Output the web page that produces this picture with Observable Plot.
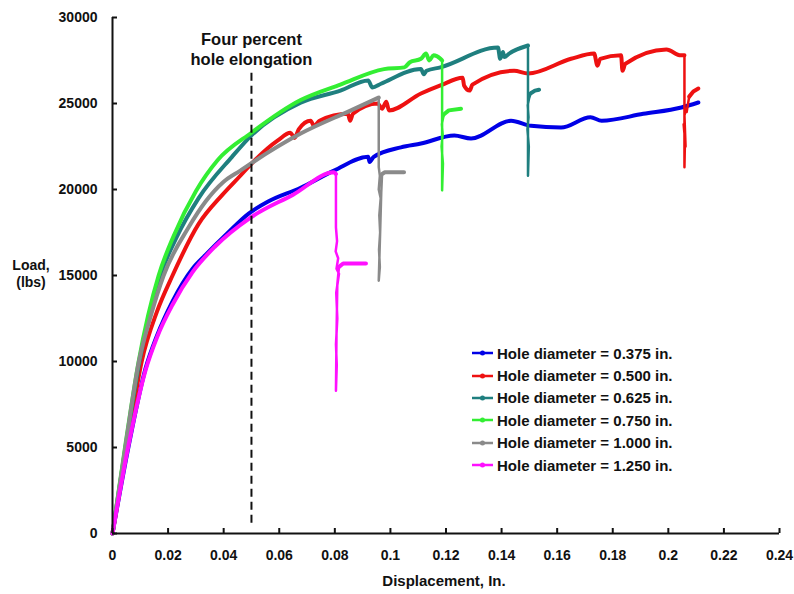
<!DOCTYPE html>
<html><head><meta charset="utf-8">
<script src="https://cdn.jsdelivr.net/npm/d3@7"></script>
<script src="https://cdn.jsdelivr.net/npm/@observablehq/plot@0.6"></script>
<style>
body{margin:0;background:#fff;}
#wrap{position:relative;width:794px;height:594px;font-family:"Liberation Sans",Arial,sans-serif;font-weight:bold;color:#111;}
.lab{position:absolute;white-space:nowrap;}
.row{display:flex;align-items:center;height:22.4px;font-size:15px;}
.row svg{margin-right:3px;}
</style></head><body><div id="wrap"></div>
<script>
// ---- tick values ----
const xTicks = [0, 0.02, 0.04, 0.06, 0.08, 0.1, 0.12, 0.14, 0.16, 0.18, 0.2, 0.22, 0.24];
const yTicks = [0, 5000, 10000, 15000, 20000, 25000, 30000];

// ---- series names and colours ----
const names = ["Hole diameter = 0.375 in.", "Hole diameter = 0.500 in.", "Hole diameter = 0.625 in.",
               "Hole diameter = 0.750 in.", "Hole diameter = 1.000 in.", "Hole diameter = 1.250 in."];
const colors = ["#0000e6", "#ee1111", "#1f7f7f", "#33ee33", "#8a8a8a", "#ff10ff"];

// ---- 0.375 in. ----
const d375x = [0, 0.0057, 0.0119, 0.016, 0.0216, 0.0288, 0.0335, 0.041, 0.049, 0.056, 0.0677, 0.0797, 0.092, 0.0925, 0.094, 0.1038, 0.111, 0.123, 0.129, 0.1434, 0.1506, 0.1614, 0.172, 0.176, 0.191, 0.2047, 0.2108];
const d375y = [0, 5000, 9600, 11500, 13500, 15400, 16200, 17400, 18600, 19300, 20100, 21100, 21900, 21600, 21900, 22450, 22670, 23140, 22960, 24000, 23700, 23600, 24200, 24000, 24400, 24770, 25060];
const f375x = [];
const f375y = [];

// ---- 0.500 in. ----
const d500x = [0, 0.0052, 0.0105, 0.016, 0.0216, 0.031, 0.0396, 0.046, 0.0497, 0.0595, 0.064, 0.0655, 0.067, 0.0713, 0.0725, 0.0745, 0.0847, 0.0855, 0.0865, 0.0955, 0.097, 0.0985, 0.0995, 0.111, 0.118, 0.126, 0.1265, 0.1285, 0.1295, 0.1445, 0.1495, 0.165, 0.1733, 0.1745, 0.1755, 0.183, 0.1835, 0.1845, 0.1993, 0.2045, 0.2058];
const d500y = [0, 5000, 10000, 12900, 15000, 18000, 19700, 20800, 21450, 22850, 23300, 23000, 23500, 24000, 23700, 24000, 24400, 24000, 24400, 25000, 24700, 25100, 24600, 25580, 26050, 26500, 26050, 25750, 26100, 26900, 26740, 27600, 27900, 27200, 27600, 27800, 26900, 27300, 28140, 27800, 27800];
const f500x = [0.2058, 0.2060, 0.2055, 0.2062, 0.2058, 0.2064, 0.2066, 0.2075, 0.209, 0.2108];
const f500y = [21300, 23000, 23800, 22500, 24300, 24700, 24500, 25400, 25700, 25870];

// ---- 0.625 in. ----
const d625x = [0, 0.0047, 0.0097, 0.0172, 0.023, 0.031, 0.043, 0.05, 0.0677, 0.082, 0.092, 0.0935, 0.0966, 0.111, 0.112, 0.113, 0.118, 0.1387, 0.1395, 0.1405, 0.141, 0.1427, 0.1495];
const d625y = [0, 5000, 10000, 15000, 17200, 19500, 21900, 23150, 25050, 25750, 26340, 25930, 26150, 27000, 26700, 26900, 27100, 28250, 27600, 28000, 27700, 27900, 28370];
const f625x = [0.1495, 0.1498, 0.1493, 0.1497, 0.1494, 0.1499, 0.1505, 0.152, 0.1535];
const f625y = [20800, 22500, 23500, 24200, 24900, 25300, 25600, 25750, 25800];

// ---- 0.750 in. ----
const d750x = [0, 0.0045, 0.0094, 0.0166, 0.022, 0.03, 0.0378, 0.05, 0.0677, 0.082, 0.0977, 0.105, 0.107, 0.111, 0.1128, 0.114, 0.1155, 0.118, 0.1186];
const d750y = [0, 5000, 10000, 15000, 17300, 19900, 21700, 23300, 25200, 26100, 27000, 27100, 27400, 27600, 27900, 27500, 27800, 27600, 27500];
const f750x = [0.1186, 0.1189, 0.1184, 0.1188, 0.1185, 0.119, 0.1195, 0.121, 0.1254];
const f750y = [19950, 21500, 22500, 23200, 23800, 24200, 24400, 24600, 24700];

// ---- 1.000 in. ----
const d1000x = [0, 0.0046, 0.0095, 0.0135, 0.0184, 0.0274, 0.0335, 0.04, 0.046, 0.0497, 0.0677, 0.0858, 0.0958];
const d1000y = [0, 5000, 10000, 12500, 15000, 17800, 19300, 20450, 21100, 21500, 23250, 24600, 25350];
const f1000x = [0.0958, 0.0962, 0.0958, 0.0965, 0.096, 0.0963, 0.0959, 0.0962, 0.0958, 0.0963, 0.0967, 0.097, 0.098, 0.1049];
const f1000y = [21300, 20800, 20000, 19500, 18500, 17500, 16500, 15500, 14700, 17500, 19800, 20900, 21000, 21000];

// ---- 1.250 in. ----
const d1250x = [0, 0.0056, 0.0119, 0.016, 0.0216, 0.0288, 0.037, 0.0497, 0.065, 0.0797, 0.0804];
const d1250y = [0, 5000, 9500, 11400, 13300, 15200, 16700, 18370, 19700, 21000, 20900];
const f1250x = [0.0804, 0.0808, 0.0803, 0.0812, 0.0806, 0.0815, 0.0805, 0.0809, 0.0804, 0.0807, 0.0804, 0.0806, 0.0809, 0.0815, 0.083, 0.0912];
const f1250y = [17800, 17000, 16400, 16000, 15400, 15100, 14000, 12500, 11000, 9800, 8300, 11500, 14500, 15500, 15700, 15700];

// ---- annotation ----
const annotText = "Four percent\nhole elongation";
const annotX = 0.05;
const annotY = 28200;
const ruleLow = 600, ruleHigh = 26800;

const mainX = [d375x, d500x, d625x, d750x, d1000x, d1250x];
const mainY = [d375y, d500y, d625y, d750y, d1000y, d1250y];
const failX = [f375x, f500x, f625x, f750x, f1000x, f1250x];
const failY = [f375y, f500y, f625y, f750y, f1000y, f1250y];

const lineMarks = [];
names.forEach((n, i) => {
  const main = mainX[i].map((v, j) => ({x: v, y: mainY[i][j]}));
  lineMarks.push(Plot.line(main, {x: "x", y: "y", stroke: colors[i], strokeWidth: 4, curve: "monotone-x", strokeLinejoin: "round", strokeLinecap: "round"}));
  if (failX[i].length) {
    const last = main[main.length - 1];
    const fail = [last].concat(failX[i].map((v, j) => ({x: v, y: failY[i][j]})));
    lineMarks.push(Plot.line(fail, {x: "x", y: "y", stroke: colors[i], strokeWidth: 2.5, strokeLinejoin: "round"}));
    const arm = fail.slice(-3);
    lineMarks.push(Plot.line(arm, {x: "x", y: "y", stroke: colors[i], strokeWidth: 4, strokeLinecap: "round"}));
  }
});

const fmtX = d => String(+d.toFixed(2));
const plot = Plot.plot({
  width: 794, height: 594,
  marginLeft: 112, marginRight: 15, marginTop: 17, marginBottom: 61,
  x: {domain: [0, 0.24], label: null},
  y: {domain: [0, 30000], label: null},
  style: {fontFamily: '"Liberation Sans", Arial, sans-serif', fontWeight: "bold", fontSize: "14px", color: "#111", background: "white"},
  marks: [
    ...lineMarks,
    Plot.ruleX([annotX], {y1: ruleLow, y2: ruleHigh, stroke: "#111", strokeWidth: 2, strokeDasharray: "8,5"}),
    Plot.text([annotText], {x: annotX, y: annotY, text: d => d, fontSize: 16.5, lineHeight: 1.22, fill: "#111", fontWeight: "bold"}),
    Plot.axisX({ticks: xTicks, tickSize: -5, tickFormat: () => "", label: null, stroke: "#111", strokeWidth: 2}),
    Plot.axisX({ticks: xTicks, tickSize: 0, tickPadding: 17, tickFormat: fmtX, label: null, fontSize: 14, fill: "#111"}),
    Plot.axisY({ticks: yTicks, tickSize: -5, tickFormat: () => "", label: null, stroke: "#111", strokeWidth: 2}),
    Plot.axisY({ticks: yTicks, tickSize: 0, tickPadding: 15, tickFormat: d => String(d), label: null, fontSize: 14, fill: "#111"}),
    Plot.ruleY([0], {stroke: "#111", strokeWidth: 2}),
    Plot.ruleX([0], {stroke: "#111", strokeWidth: 2})
  ]
});

const wrap = document.getElementById("wrap");
wrap.appendChild(plot);

const yl = document.createElement("div");
yl.className = "lab";
yl.style.cssText = "left:8px;top:257px;width:46px;text-align:center;font-size:14px;line-height:17px;";
yl.innerHTML = "Load,<br>(lbs)";
wrap.appendChild(yl);

const xl = document.createElement("div");
xl.className = "lab";
xl.style.cssText = "left:344px;top:572px;width:200px;text-align:center;font-size:15px;line-height:18px;";
xl.textContent = "Displacement, In.";
wrap.appendChild(xl);

const lg = document.createElement("div");
lg.className = "lab";
lg.style.cssText = "left:471px;top:342px;";
names.forEach((n, i) => {
  const r = document.createElement("div");
  r.className = "row";
  r.innerHTML = `<svg width="23" height="8"><line x1="1" y1="4" x2="22" y2="4" stroke="${colors[i]}" stroke-width="2.5"/><circle cx="11.5" cy="4" r="2.5" fill="${colors[i]}"/></svg><span>${n}</span>`;
  lg.appendChild(r);
});
wrap.appendChild(lg);
</script>
</body></html>
